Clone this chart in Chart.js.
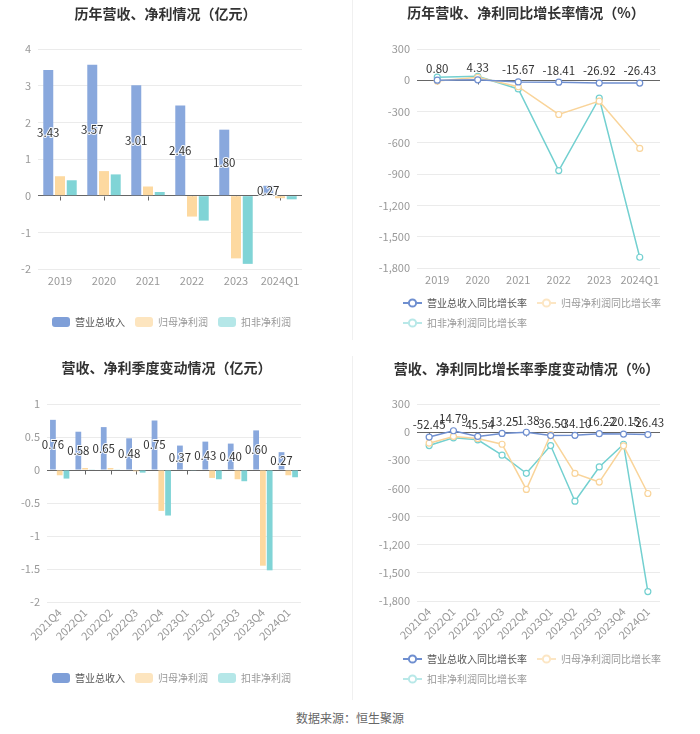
<!DOCTYPE html>
<html>
<head>
<meta charset="utf-8">
<script src="https://cdn.jsdelivr.net/npm/chart.js@4"></script>
<style>
  body { margin: 0; background: #fff; }
  #wrap { position: relative; width: 700px; height: 734px; }
  canvas { position: absolute; }
  .divider { position: absolute; left: 352px; width: 1px; background: #f0f0f0; }
  #source { position: absolute; left: 0; top: 709px; width: 700px; text-align: center;
    font: 12px "Noto Sans CJK SC", sans-serif; color: #666; }
</style>
</head>
<body>
<div id="wrap">
  <canvas id="c1" width="350" height="347" style="left:0;top:0"></canvas>
  <canvas id="c2" width="350" height="347" style="left:350px;top:0"></canvas>
  <canvas id="c3" width="350" height="353" style="left:0;top:350px"></canvas>
  <canvas id="c4" width="350" height="353" style="left:350px;top:350px"></canvas>
  <div class="divider" style="top:0;height:340px"></div>
  <div class="divider" style="top:356px;height:344px"></div>
  <div id="source">数据来源：恒生聚源</div>
</div>
<script>
// 年度数据（亿元 / %）
let years = ['2019', '2020', '2021', '2022', '2023', '2024Q1'];
let annualRevenue = [3.43, 3.57, 3.01, 2.46, 1.80, 0.27];
let annualNetProfit = [0.53, 0.67, 0.25, -0.57, -1.71, -0.07];
let annualDeductedProfit = [0.42, 0.58, 0.10, -0.68, -1.86, -0.10];
let annualRevenueGrowth = [0.80, 4.33, -15.67, -18.41, -26.92, -26.43];
let annualNetGrowth = [-8, 28, -62, -328, -200, -653];
let annualDeductedGrowth = [30, 38, -83, -866, -172, -1697];

// 季度数据
let quarters = ['2021Q4', '2022Q1', '2022Q2', '2022Q3', '2022Q4', '2023Q1', '2023Q2', '2023Q3', '2023Q4', '2024Q1'];
let quarterRevenue = [0.76, 0.58, 0.65, 0.48, 0.75, 0.37, 0.43, 0.40, 0.60, 0.27];
let quarterNetProfit = [-0.08, 0.03, 0.03, -0.02, -0.62, 0.00, -0.12, -0.14, -1.45, -0.08];
let quarterDeductedProfit = [-0.13, 0.01, 0.01, -0.04, -0.69, -0.01, -0.14, -0.17, -1.52, -0.11];
let quarterRevenueGrowth = [-52.45, 14.79, -45.54, -13.25, -1.38, -36.50, -34.10, -16.22, -20.15, -26.43];
let quarterNetGrowth = [-118, -46, -68, -129, -611, -25, -440, -532, -146, -654];
let quarterDeductedGrowth = [-143, -61, -82, -246, -439, -143, -736, -371, -129, -1700];

let barNames = ['营业总收入', '归母净利润', '扣非净利润'];
let lineNames = ['营业总收入同比增长率', '归母净利润同比增长率', '扣非净利润同比增长率'];

let FONT = '"Noto Sans CJK SC", "Noto Sans", sans-serif';
Chart.defaults.font.family = FONT;
Chart.defaults.animation = false;

let barColors = ['#89a8dd', '#fdd9a0', '#80d4d6'];
let barLegendColors = ['#7f9fd8', '#fde5bf', '#b5e7e8'];
let lineColors = ['#6f8fd0', '#f9d49a', '#73d0d0'];
let lineLegendColors = ['#6f8fd0', '#fce6c4', '#b8e8e8'];
let legendTextColors = ['#555', '#999', '#999'];

// 数值标签
let valueLabels = {
    id: 'valueLabels',
    afterDatasetsDraw(chart, args, opts) {
        let ctx = chart.ctx;
        let meta = chart.getDatasetMeta(0);
        let data = chart.data.datasets[0].data;
        ctx.save();
        ctx.font = '11.5px ' + FONT;
        ctx.textAlign = 'center';
        ctx.textBaseline = 'middle';
        meta.data.forEach(function (el, i) {
            let text = data[i].toFixed(2);
            let y = opts.mode === 'bar' ? (el.y + el.base) / 2 : el.y - 12;
            if (opts.mode === 'bar') {
                ctx.strokeStyle = 'rgba(255,255,255,0.9)';
                ctx.lineWidth = 2;
                ctx.strokeText(text, el.x, y);
            }
            ctx.fillStyle = '#333';
            ctx.fillText(text, el.x, y);
        });
        ctx.restore();
    }
};

// 零轴上的小刻度
let zeroTicks = {
    id: 'zeroTicks',
    beforeDatasetsDraw(chart) {
        let ctx = chart.ctx;
        let xs = chart.scales.x;
        let y0 = Math.round(chart.scales.y.getPixelForValue(0)) + 0.5;
        ctx.save();
        ctx.strokeStyle = '#666';
        ctx.lineWidth = 1;
        for (let i = 0; i < xs.ticks.length; i++) {
            let x = Math.round(xs.getPixelForTick(i)) + 0.5;
            ctx.beginPath();
            ctx.moveTo(x, y0);
            ctx.lineTo(x, y0 + 4);
            ctx.stroke();
        }
        ctx.restore();
    }
};

// 调整标题和图例的水平位置
let placeBoxes = {
    id: 'placeBoxes',
    afterLayout(chart, args, opts) {
        let lg = chart.legend;
        if (lg && opts.legendLeft != null) {
            let w = lg.right - lg.left;
            lg.left = opts.legendLeft;
            lg.right = lg.left + w;
        }
        let tt = chart.titleBlock;
        if (tt && opts.titleCenter != null) {
            let w = tt.right - tt.left;
            tt.left = opts.titleCenter - w / 2;
            tt.right = opts.titleCenter + w / 2;
        }
    }
};

function lineIcon(color) {
    let c = document.createElement('canvas');
    c.width = 19;
    c.height = 10;
    let g = c.getContext('2d');
    g.strokeStyle = color;
    g.lineWidth = 2;
    g.beginPath();
    g.moveTo(0, 5);
    g.lineTo(19, 5);
    g.stroke();
    g.fillStyle = '#fff';
    g.beginPath();
    g.arc(9.5, 5, 3.6, 0, Math.PI * 2);
    g.fill();
    g.stroke();
    return c;
}

function makeLegend(kind) {
    let labels = {
        color: '#999',
        font: { size: 10 },
        padding: 10,
        generateLabels: function (chart) {
            return chart.data.datasets.map(function (ds, i) {
                let item = {
                    text: ds.label,
                    fontColor: legendTextColors[i],
                    datasetIndex: i,
                    lineWidth: 0,
                    strokeStyle: 'transparent'
                };
                if (kind === 'bar') {
                    item.fillStyle = barLegendColors[i];
                    item.borderRadius = 3;
                } else {
                    item.pointStyle = lineIcon(lineLegendColors[i]);
                }
                return item;
            });
        }
    };
    if (kind === 'bar') {
        labels.boxWidth = 18;
        labels.boxHeight = 10;
        labels.useBorderRadius = true;
        labels.borderRadius = 3;
    } else {
        labels.usePointStyle = true;
        labels.pointStyleWidth = 19;
    }
    return { position: 'bottom', align: 'start', labels: labels };
}

function yAxis(min, max, step, width, fmt) {
    return {
        min: min,
        max: max,
        afterFit: function (s) { s.width = width; },
        border: { display: false },
        grid: {
            color: function (c) { return c.tick && c.tick.value === 0 ? '#666' : '#ebebeb'; },
            drawTicks: false
        },
        ticks: {
            stepSize: step,
            padding: 7,
            color: '#999',
            font: { size: 11 },
            callback: fmt
        }
    };
}

function xAxis(height, rotate, offset) {
    return {
        offset: offset,
        afterFit: function (s) { s.height = height; },
        border: { display: false },
        grid: { display: false, drawTicks: false },
        ticks: {
            color: '#999',
            font: { size: 11 },
            padding: rotate ? 4 : 5,
            autoSkip: false,
            minRotation: rotate ? 45 : 0,
            maxRotation: rotate ? 45 : 0
        }
    };
}

function barChart(id, labels, series, p) {
    new Chart(document.getElementById(id), {
        type: 'bar',
        data: {
            labels: labels,
            datasets: series.map(function (d, i) {
                return {
                    label: barNames[i],
                    data: d,
                    backgroundColor: barColors[i],
                    categoryPercentage: 0.8,
                    barPercentage: 0.85
                };
            })
        },
        options: {
            responsive: false,
            layout: { padding: { left: 0, right: p.right, top: 0, bottom: p.bottom } },
            plugins: {
                title: {
                    display: true,
                    text: p.title,
                    color: '#333',
                    font: { size: 14, weight: 'bold' },
                    padding: { top: p.titleTop, bottom: p.titleBottom }
                },
                legend: makeLegend('bar'),
                tooltip: { enabled: false },
                valueLabels: { mode: 'bar' },
                placeBoxes: { legendLeft: p.legendLeft, titleCenter: p.titleCenter }
            },
            scales: {
                x: xAxis(p.xHeight, p.rotate, true),
                y: yAxis(p.min, p.max, p.step, p.yWidth, function (v) { return String(v); })
            }
        },
        plugins: [valueLabels, zeroTicks, placeBoxes]
    });
}

function lineChart(id, labels, series, p) {
    new Chart(document.getElementById(id), {
        type: 'line',
        data: {
            labels: labels,
            datasets: series.map(function (d, i) {
                return {
                    label: lineNames[i],
                    data: d,
                    borderColor: lineColors[i],
                    backgroundColor: '#fff',
                    borderWidth: 1.5,
                    pointRadius: 3,
                    pointBorderWidth: 1.2,
                    pointBackgroundColor: '#fff',
                    tension: 0
                };
            })
        },
        options: {
            responsive: false,
            layout: { padding: { left: 0, right: p.right, top: 0, bottom: p.bottom } },
            plugins: {
                title: {
                    display: true,
                    text: p.title,
                    color: '#333',
                    font: { size: 14, weight: 'bold' },
                    padding: { top: p.titleTop, bottom: p.titleBottom }
                },
                legend: makeLegend('line'),
                tooltip: { enabled: false },
                valueLabels: { mode: 'line' },
                placeBoxes: { legendLeft: p.legendLeft, titleCenter: p.titleCenter }
            },
            scales: {
                x: xAxis(p.xHeight, p.rotate, true),
                y: yAxis(-1800, 300, 300, p.yWidth, function (v) { return v.toLocaleString('en-US'); })
            }
        },
        plugins: [valueLabels, zeroTicks, placeBoxes]
    });
}

barChart('c1', years, [annualRevenue, annualNetProfit, annualDeductedProfit], {
    title: '历年营收、净利情况（亿元）',
    min: -2, max: 4, step: 1,
    right: 48, bottom: 10, yWidth: 38, xHeight: 38,
    titleTop: 5, titleBottom: 27.2,
    legendLeft: 42, titleCenter: 165.5, rotate: false
});

lineChart('c2', years, [annualRevenueGrowth, annualNetGrowth, annualDeductedGrowth], {
    title: '历年营收、净利同比增长率情况（%）',
    right: 40, bottom: 9, yWidth: 67, xHeight: 20,
    titleTop: 4.5, titleBottom: 27.7,
    legendLeft: 43, titleCenter: 176, rotate: false
});

barChart('c3', quarters, [quarterRevenue, quarterNetProfit, quarterDeductedProfit], {
    title: '营收、净利季度变动情况（亿元）',
    min: -2, max: 1, step: 0.5,
    right: 49, bottom: 10, yWidth: 47, xHeight: 61,
    titleTop: 9, titleBottom: 28.2,
    legendLeft: 42, titleCenter: 166.5, rotate: true
});

lineChart('c4', quarters, [quarterRevenueGrowth, quarterNetGrowth, quarterDeductedGrowth], {
    title: '营收、净利同比增长率季度变动情况（%）',
    right: 40, bottom: 9, yWidth: 67, xHeight: 43,
    titleTop: 10.6, titleBottom: 26.6,
    legendLeft: 43, titleCenter: 176.5, rotate: true
});
</script>
</body>
</html>
